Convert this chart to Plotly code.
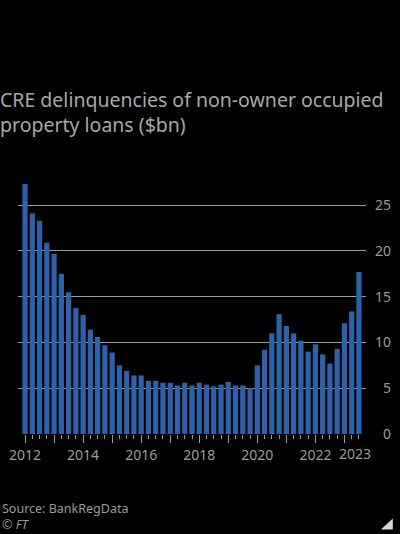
import plotly.graph_objects as go

# quarterly data, 2012 Q1 to 2023 Q3
quarters = [f"{y} Q{q}" for y in range(2012, 2024) for q in range(1, 5)][:47]
delinquencies = [
    27.3, 24.1, 23.3, 20.9, 19.7, 17.5, 15.5, 13.75,
    13.0, 11.4, 10.6, 9.7, 8.9, 7.5, 6.9, 6.4,
    6.4, 5.8, 5.8, 5.6, 5.6, 5.3, 5.6, 5.3,
    5.6, 5.4, 5.2, 5.4, 5.7, 5.3, 5.3, 5.0,
    7.5, 9.2, 11.0, 13.1, 11.8, 11.0, 10.2, 9.0,
    9.8, 8.7, 7.7, 9.3, 12.1, 13.4, 17.7,
]
year_labels = ["2012", "", "2014", "", "2016", "", "2018", "", "2020", "", "2022", ""]
y_ticks = [0, 5, 10, 15, 20, 25]

grey = "#9b9b9b"
bar_blue = "#2d61a8"
font = "Noto Sans"

x = list(range(len(quarters)))
year_pos = [i for i, q in enumerate(quarters) if q.endswith("Q1")]

fig = go.Figure()
fig.add_trace(go.Bar(
    x=x, y=delinquencies, marker_color=bar_blue, marker_line_width=0,
    hovertext=quarters,
))

fig.update_layout(
    width=400, height=534,
    paper_bgcolor="black", plot_bgcolor="black",
    margin=dict(l=18, r=34, t=180, b=100),
    bargap=0.28,
    showlegend=False,
    font=dict(family=font, color=grey),
    title=dict(
        text="CRE delinquencies of non-owner occupied<br>property loans ($bn)",
        font=dict(size=19.5, color="#a8a8a8"),
        xref="container", x=0.0, xanchor="left",
        yref="container", y=0.80, yanchor="bottom",
    ),
)

fig.update_xaxes(
    range=[-0.97, 46.97], automargin=False,
    tickmode="array", tickvals=year_pos[:len(year_labels)], ticktext=year_labels,
    ticks="outside", ticklen=8, tickcolor=grey, tickwidth=1,
    minor=dict(dtick=1, tick0=0, ticks="outside", ticklen=4, tickcolor=grey, tickwidth=1),
    tickfont=dict(size=14, color=grey),
    showgrid=False, zeroline=False, showline=False,
)

fig.update_yaxes(
    side="right", range=[0, 27.75], automargin=False,
    tickmode="array", tickvals=y_ticks,
    ticktext=[("\u2007" + str(v)) if v < 10 else str(v) for v in y_ticks],
    tickfont=dict(size=14, color=grey),
    showgrid=True, gridcolor=grey, gridwidth=1,
    zeroline=False, showline=False, ticks="", ticklabelstandoff=8,
)

# 2023 label sits at the end of the axis
fig.add_annotation(
    x=45.4, y=0, xref="x", yref="y", yshift=-8, yanchor="top",
    text="2023", showarrow=False, font=dict(size=14, color=grey),
)

fig.add_annotation(
    x=0, xref="paper", xanchor="left", y=-0.25, yref="paper", yanchor="top",
    xshift=-18, text="Source: BankRegData", showarrow=False,
    font=dict(size=12.5, color=grey),
)
fig.add_annotation(
    x=0, xref="paper", xanchor="left", y=-0.315, yref="paper", yanchor="top",
    xshift=-18, text="<i>© FT</i>", showarrow=False,
    font=dict(size=12.5, color=grey),
)

# small corner triangle
fig.add_shape(
    type="path", xref="paper", yref="paper",
    path="M 1.043 -0.3756 L 1.077 -0.3756 L 1.077 -0.3323 Z",
    fillcolor="#d8d8d8", line_width=0,
)

fig.write_html(
    "out.html",
    config={"displayModeBar": False},
    post_script="document.body.style.margin='0';document.body.style.background='black';",
)
